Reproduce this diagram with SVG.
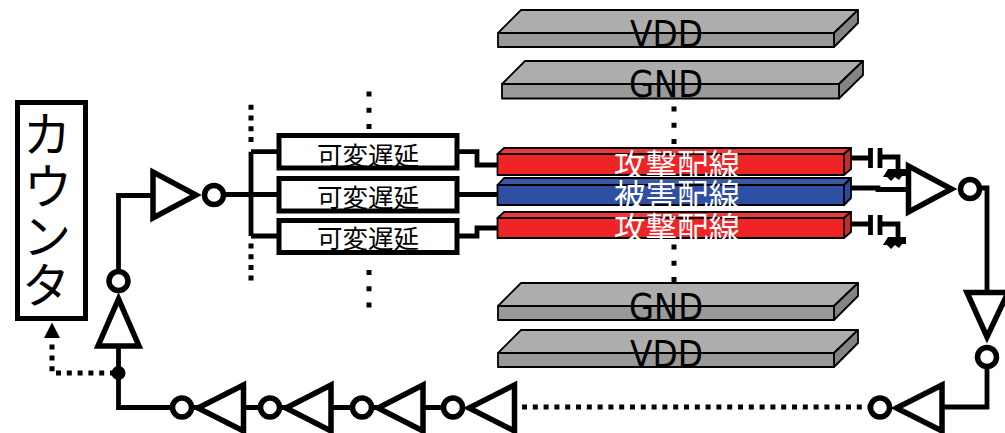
<svg xmlns="http://www.w3.org/2000/svg" width="1005" height="433" viewBox="0 0 1005 433">
<style>
text{font-family:"Noto Sans CJK JP","DejaVu Sans",sans-serif;text-anchor:middle}
.w{fill:none;stroke:#000;stroke-width:4.800}
.dot{fill:none;stroke:#000;stroke-width:5;stroke-dasharray:5 5.800}
.dv{fill:none;stroke:#000;stroke-width:5;stroke-dasharray:5 5.700}
.dw{fill:none;stroke:#000;stroke-width:5;stroke-dasharray:5 11.300}
.inv{fill:#fff;stroke:#000;stroke-width:5.500}
.box{fill:#fff;stroke:#000;stroke-width:5}
.e{stroke:#000;stroke-width:1.800;stroke-linejoin:round}
.pt{fill:#adadad}.pf{fill:#999}.ps{fill:#848484}
.rt{fill:#f0383a}.rf{fill:#f02325}.rs{fill:#c82a2d}
.bt{fill:#3b58a5}.bf{fill:#2f4fa3}.bs{fill:#2a4a9a}
.lab{font-size:37px;fill:#000;font-family:"DejaVu Sans",sans-serif}
.wl{font-size:31.500px;fill:#fff}
.dl{font-size:25.500px;fill:#000}
.kana{font-size:48px;fill:#000}
</style>
<g id="connectors">
<path class="w" d="M118.500 272V195.500H153"/>
<path class="w" d="M225 194.500H279M251 151.700V236M251 151.700H279M251 236H279"/>
<path class="dv" d="M251 104.800V143M251 243.500V282"/>
<path class="dw" d="M369 91.500V130M369 270V309M674 106.500V145M674 244.500V283"/>
<path class="w" d="M457 151.700H477V165H498M457 194.500H498M457 236H477V228H498"/>
<path class="w" d="M851 158H871M851 188H878V189.500H909M851 224H871"/>
<path class="w" d="M880 157H898V173M880 224H898V240"/>
<path class="w" d="M979 188H987V293M987 366V407H944"/>
<path class="w" d="M118.500 346V407.500H172"/>
<path class="w" d="M192 407.500H260M280 407.500H352M372 407.500H443"/>
<path class="dot" d="M522 407H870"/>
<path class="dot" d="M115 373H52V343"/>
<polygon points="52,322.500 44,338 60,338" fill="#000"/>
<circle cx="118.500" cy="373" r="7" fill="#000"/>
<g id="cap1"><path class="w" d="M870.500 148V168M880 148V168"/><path d="M888 169H906V176H902L899 180L895 177L891 181L887 177L883 177Z" fill="#000"/></g>
<g id="cap2"><path class="w" d="M870.500 215V235M880 215V235"/><path d="M888 237H906V244H902L899 248L895 245L891 249L887 245L883 245Z" fill="#000"/></g>
</g>
<g id="counter"><rect class="box" x="17.500" y="102.500" width="68" height="216"/>
<text class="kana" x="47" y="152">カ</text><text class="kana" x="48" y="204">ウ</text><text class="kana" x="47" y="254">ン</text><text class="kana" x="46" y="303">タ</text></g>
<g id="inv-left-up"><polygon class="inv" points="118.500,299 98,346 139,346"/><circle class="inv" cx="118.500" cy="281" r="9.500"/></g>
<g id="inv-top"><polygon class="inv" points="153,172 153,218 196,195"/><circle class="inv" cx="214" cy="195" r="9.500"/></g>
<g id="inv-right"><polygon class="inv" points="908.500,166 908.500,212 951.500,189"/><circle class="inv" cx="970" cy="189" r="9.500"/></g>
<g id="inv-right-down"><polygon class="inv" points="967,292.500 1008,292.500 987,337"/><circle class="inv" cx="987" cy="357" r="9.500"/></g>
<g id="inv-b1"><polygon class="inv" points="243.500,385 243.500,431 198,408"/><circle class="inv" cx="182" cy="407.500" r="9.500"/></g>
<g id="inv-b2"><polygon class="inv" points="331,385 331,431 286,408"/><circle class="inv" cx="270" cy="407.500" r="9.500"/></g>
<g id="inv-b3"><polygon class="inv" points="423,385 423,431 378,408"/><circle class="inv" cx="362" cy="407.500" r="9.500"/></g>
<g id="inv-b4"><polygon class="inv" points="514.500,385 514.500,431 469,408"/><circle class="inv" cx="453" cy="407.500" r="9.500"/></g>
<g id="inv-b5"><polygon class="inv" points="942,385 942,431 896.500,408"/><circle class="inv" cx="880" cy="407.500" r="9.500"/></g>
<g id="delay1"><rect class="box" x="279" y="135.500" width="178" height="32.500"/><text class="dl" x="368" y="164.500">可変遅延</text></g>
<g id="delay2"><rect class="box" x="279" y="178.500" width="178" height="32.500"/><text class="dl" x="368" y="207">可変遅延</text></g>
<g id="delay3"><rect class="box" x="279" y="220.500" width="178" height="32"/><text class="dl" x="368" y="248">可変遅延</text></g>
<g id="vdd-top"><polygon class="e pt" points="498,33 521,10 858,10 834,33"/><polygon class="e ps" points="834,33 858,10 858,23 834,47"/><rect class="e pf" x="498" y="33" width="336" height="14"/><text class="lab" x="666.500" y="47" textLength="73" lengthAdjust="spacingAndGlyphs">VDD</text></g>
<g id="gnd-top"><polygon class="e pt" points="502,84 525,61 863,61 839,84"/><polygon class="e ps" points="839,84 863,61 863,75 839,98.500"/><rect class="e pf" x="502" y="84" width="337" height="14.500"/><text class="lab" x="666" y="96.500" textLength="74" lengthAdjust="spacingAndGlyphs">GND</text></g>
<g id="gnd-bottom"><polygon class="e pt" points="498,306 521,283 858,283 834,306"/><polygon class="e ps" points="834,306 858,283 858,296 834,320"/><rect class="e pf" x="498" y="306" width="336" height="14"/><text class="lab" x="666" y="320" textLength="74" lengthAdjust="spacingAndGlyphs">GND</text></g>
<g id="vdd-bottom"><polygon class="e pt" points="498,353 521,330 858,330 834,353"/><polygon class="e ps" points="834,353 858,330 858,343 834,367"/><rect class="e pf" x="498" y="353" width="336" height="14"/><text class="lab" x="666.500" y="367" textLength="73" lengthAdjust="spacingAndGlyphs">VDD</text></g>
<g id="attack1"><polygon class="e rt" points="497.500,154 504,148 851,148 844,154"/><polygon class="e rs" points="844,154 851,148 851,169 844,175"/><rect class="e rf" x="497.500" y="154" width="346.500" height="21"/><text class="wl" x="677" y="177">攻撃配線</text></g>
<g id="victim"><polygon class="e bt" points="497.500,185 504,178 851,178 844,185"/><polygon class="e bs" points="844,185 851,178 851,198 844,205"/><rect class="e bf" x="497.500" y="185" width="346.500" height="20"/><text class="wl" x="677" y="207">被害配線</text></g>
<g id="attack2"><polygon class="e rt" points="497.500,218 504,212 851,212 844,218"/><polygon class="e rs" points="844,218 851,212 851,232 844,238"/><rect class="e rf" x="497.500" y="218" width="346.500" height="20"/><text class="wl" x="677" y="240">攻撃配線</text></g>
</svg>
